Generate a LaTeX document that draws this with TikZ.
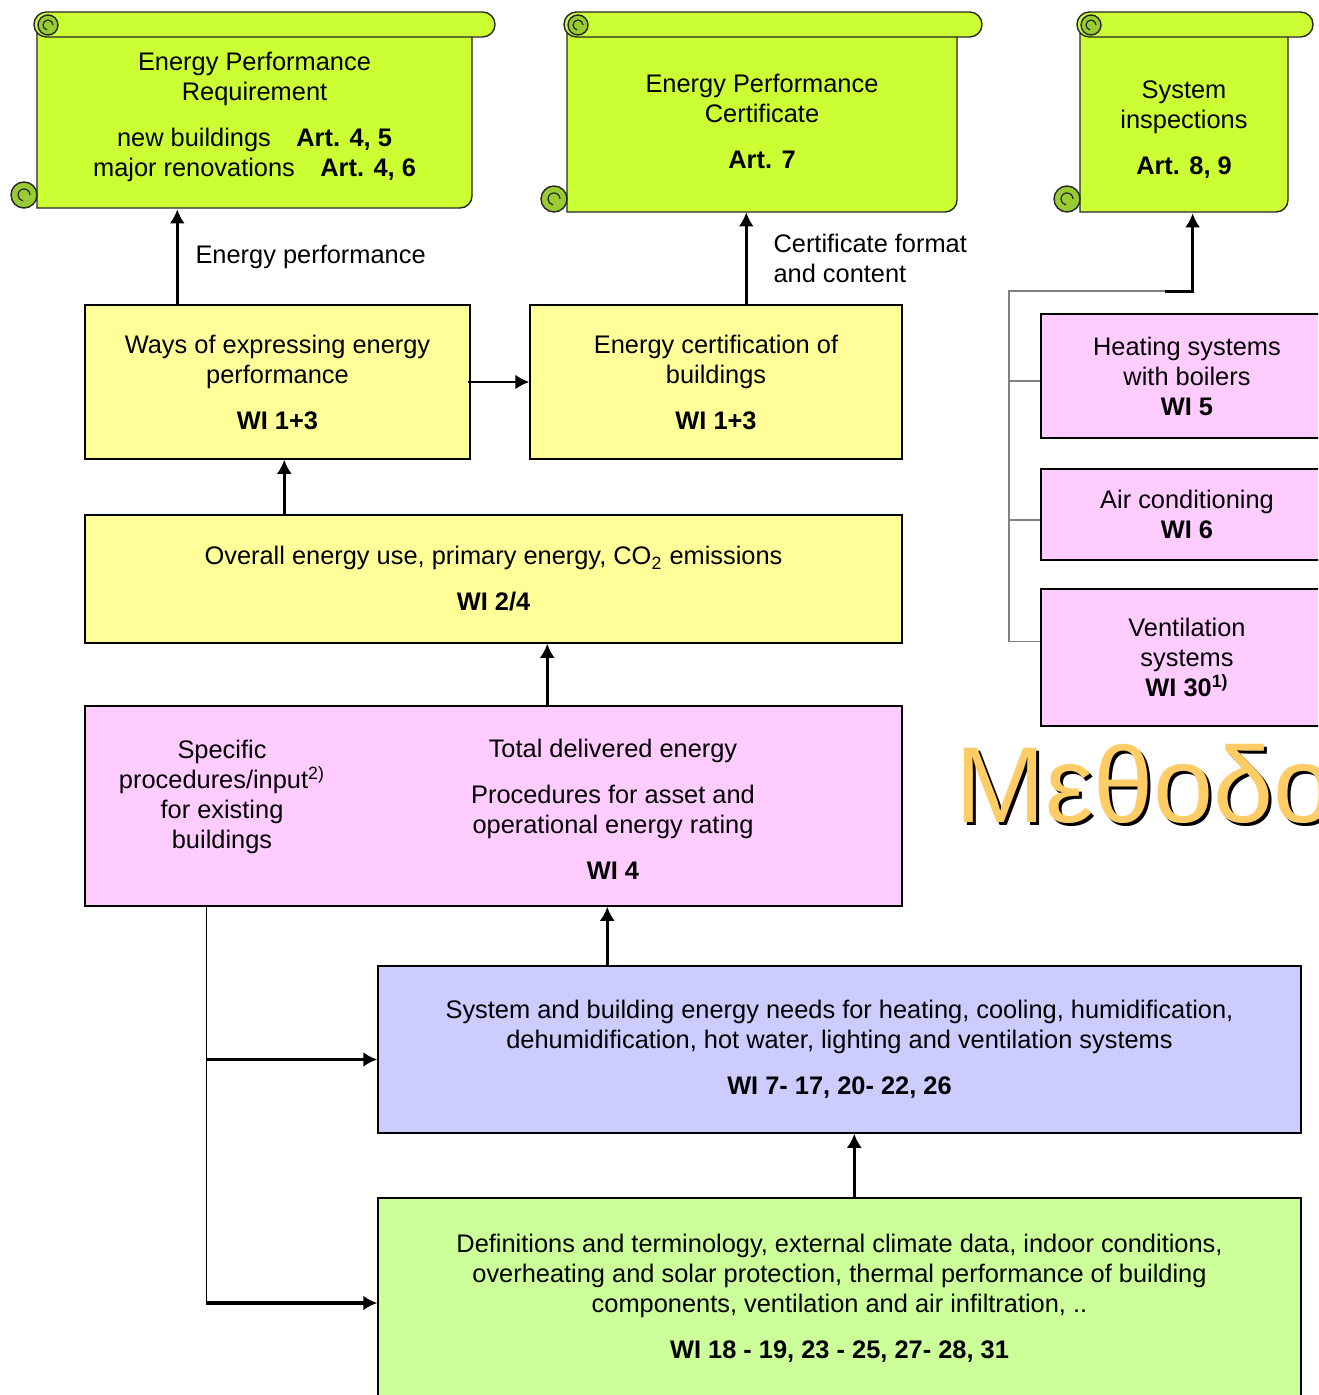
\documentclass[tikz,border=0pt]{standalone}
\usepackage{fontspec}
\setmainfont{Liberation Sans}
\usetikzlibrary{calc,arrows.meta}
\definecolor{scrolllime}{HTML}{CCFF33}
\definecolor{scrollcurl}{HTML}{99CC33}
\definecolor{goalyellow}{HTML}{FFFF99}
\definecolor{wipink}{HTML}{FFCCFF}
\definecolor{wiblue}{HTML}{CCCCFF}
\definecolor{wigreen}{HTML}{CCFF99}
\definecolor{titleorange}{HTML}{FFCC66}
\newcommand\boxfont{\fontsize{12.7}{15}\selectfont}
% parchment roll: body left, body right, top, body bottom, right end of the roll
\newcommand\parchment[5]{%
  \filldraw[roll] (#1,#3+12) -- (#1,#4) -- (#2-12,#4)
    arc[start angle=270, end angle=360, radius=6pt] -- (#2,#3+12) -- cycle;
  \filldraw[roll, rounded corners=6.2pt] (#1-3,#3) rectangle (#5,#3+25);
  \filldraw[curl] (#1+11,#3+13) circle[radius=5pt];
  \draw[curl line] (#1+11,#3+13) ++(2.5pt,0) arc[start angle=0, end angle=260, radius=2.5pt];
  \filldraw[curl] (#1-13,#4-13) circle[radius=6.5pt];
  \draw[curl line] (#1-13,#4-13) ++(3pt,0) arc[start angle=0, end angle=260, radius=3pt];
}

\begin{document}
\begin{tikzpicture}[x=0.5pt, y=-0.5pt,
    roll/.style={draw=black!85, line width=0.7pt, fill=scrolllime},
    curl/.style={roll, fill=scrollcurl},
    curl line/.style={draw=black!85, line width=0.6pt},
    scrolltext/.style={align=center, font=\boxfont, inner sep=0pt},
    box/.style={draw=black, line width=0.75pt, align=center, font=\boxfont, inner sep=0pt},
    goal/.style={box, fill=goalyellow},
    wi/.style={box, fill=wipink},
    energybox/.style={box, fill=wiblue},
    basebox/.style={box, fill=wigreen},
    arrow/.style={-{Latex[length=7pt,width=7.5pt]}, line width=1.3pt},
    branch/.style={draw=black!50, line width=0.9pt},
    note/.style={font=\boxfont, align=left, inner sep=0pt}
  ]
  \useasboundingbox (0,0) rectangle (1318,1395);
  \clip (0,0) rectangle (1318,1395);
  \fill[white] (0,0) rectangle (1318,1395);

  % directive articles
  \parchment{37}{472}{12}{208}{495}
  \parchment{567}{957}{12}{212}{982}
  \parchment{1080}{1288}{12}{212}{1313}

  \node[scrolltext, minimum width=217.5pt, minimum height=92pt] (epr) at (254.5,117)
    {Energy Performance\\Requirement\\[8pt]new buildings\quad\textbf{Art. 4, 5}\\major renovations\quad\textbf{Art. 4, 6}};
  \node[scrolltext, minimum width=195pt, minimum height=91pt] (epc) at (762,121)
    {Energy Performance\\Certificate\\[8pt]\textbf{Art. 7}};
  \node[scrolltext, minimum width=104pt, minimum height=83pt] (insp) at (1184,130)
    {System\\inspections\\[8pt]\textbf{Art. 8, 9}};

  % work items
  \node[goal, minimum width=192.5pt, minimum height=77pt] (ways) at (277.5,382)
    {Ways of expressing energy\\performance\\[8pt]\textbf{WI 1+3}};
  \node[goal, minimum width=186pt, minimum height=77pt] (cert) at (716,382)
    {Energy certification of\\buildings\\[8pt]\textbf{WI 1+3}};
  \node[goal, minimum width=408.5pt, minimum height=64pt] (overall) at (493.5,579)
    {Overall energy use, primary energy, CO\textsubscript{2} emissions\\[8pt]\textbf{WI 2/4}};
  \node[wi, minimum width=408.5pt, minimum height=100pt] (total) at (493.5,806) {};
  \node[scrolltext] (specific) at (222,797)
    {Specific\\procedures/input\textsuperscript{2)}\\for existing\\buildings};
  \node[scrolltext] (delivered) at (613,809)
    {Total delivered energy\\[8pt]Procedures for asset and\\operational energy rating\\[8pt]\textbf{WI 4}};
  \node[wi, minimum width=146pt, minimum height=62pt] (heat) at (1187,376)
    {Heating systems\\with boilers\\\textbf{WI 5}};
  \node[wi, minimum width=146pt, minimum height=45.5pt] (aircon) at (1187,514.5)
    {Air conditioning\\\textbf{WI 6}};
  \node[wi, minimum width=146pt, minimum height=68.5pt] (vent) at (1187,657.5)
    {Ventilation\\systems\\\textbf{WI 30\textsuperscript{1)}}};
  \node[energybox, minimum width=461.5pt, minimum height=83.5pt] (needs) at (839.5,1049.5)
    {System and building energy needs for heating, cooling, humidification,\\dehumidification, hot water, lighting and ventilation systems\\[8pt]\textbf{WI 7- 17, 20- 22, 26}};
  \node[basebox, minimum width=461.5pt, minimum height=100pt] (basics) at (839.5,1298)
    {Definitions and terminology, external climate data, indoor conditions,\\overheating and solar protection, thermal performance of building\\components, ventilation and air infiltration, ..\\[8pt]\textbf{WI 18 - 19, 23 - 25, 27- 28, 31}};

  \node[anchor=base west, inner sep=0pt, font=\fontsize{54}{60}\selectfont, text=black] (titleshade) at (958,825) {Μεθοδο};
  \node[anchor=base west, inner sep=0pt, font=\fontsize{54}{60}\selectfont, text=titleorange] (title) at (955,822) {Μεθοδο};

  % upward flow
  \coordinate (w1) at ($(ways.north west)+(93,0)$);
  \draw[arrow] (w1) -- node[note, right=8.5pt] {Energy performance} (w1 |- epr.south);
  \coordinate (c1) at ($(cert.north west)+(217,0)$);
  \draw[arrow] (c1) -- node[note, right=13pt] {Certificate format\\and content} (c1 |- epc.south);
  \draw[arrow] ([xshift=-1.5pt]ways.east) -- (cert);
  \coordinate (o1) at ($(overall.north west)+(200,0)$);
  \draw[arrow] (o1) -- (o1 |- ways.south);
  \coordinate (t1) at ($(total.north west)+(463,0)$);
  \draw[arrow] (t1) -- (t1 |- overall.south);
  \coordinate (n1) at ($(needs.north west)+(230,0)$);
  \draw[arrow] (n1) -- (n1 |- total.south);
  \coordinate (b1) at ($(basics.north west)+(477,0)$);
  \draw[arrow] (b1) -- (b1 |- needs.south);

  % existing buildings feed
  \coordinate (s1) at ($(total.south west)+(122,0)$);
  \coordinate (s2) at ([yshift=-5pt]needs.west);
  \coordinate (s3) at ([yshift=-2.5pt]basics.west);
  \draw[line width=0.75pt] (s1) -- (s1 |- s3);
  \draw[arrow, line width=1.6pt] (s1 |- s2) -- (s2);
  \draw[arrow, line width=1.6pt] (s1 |- s3) -- (s3);

  % inspections tree
  \coordinate (i1) at ($(insp.south west)+(113,78)$);
  \coordinate (i0) at ($(i1)+(-28,0)$);
  \coordinate (spine) at ($(heat.west)+(-31,0)$);
  \coordinate (h1) at ([yshift=-2.5pt]heat.west);
  \coordinate (a1) at ([yshift=-2.75pt]aircon.west);
  \coordinate (v1) at ([yshift=8pt]vent.west);
  \draw[branch] (i0) -| (spine |- v1) -- (v1);
  \draw[branch] (spine |- h1) -- (h1);
  \draw[branch] (spine |- a1) -- (a1);
  \draw[arrow] (i0) -- (i1) -- (i1 |- insp.south);
\end{tikzpicture}
\end{document}
